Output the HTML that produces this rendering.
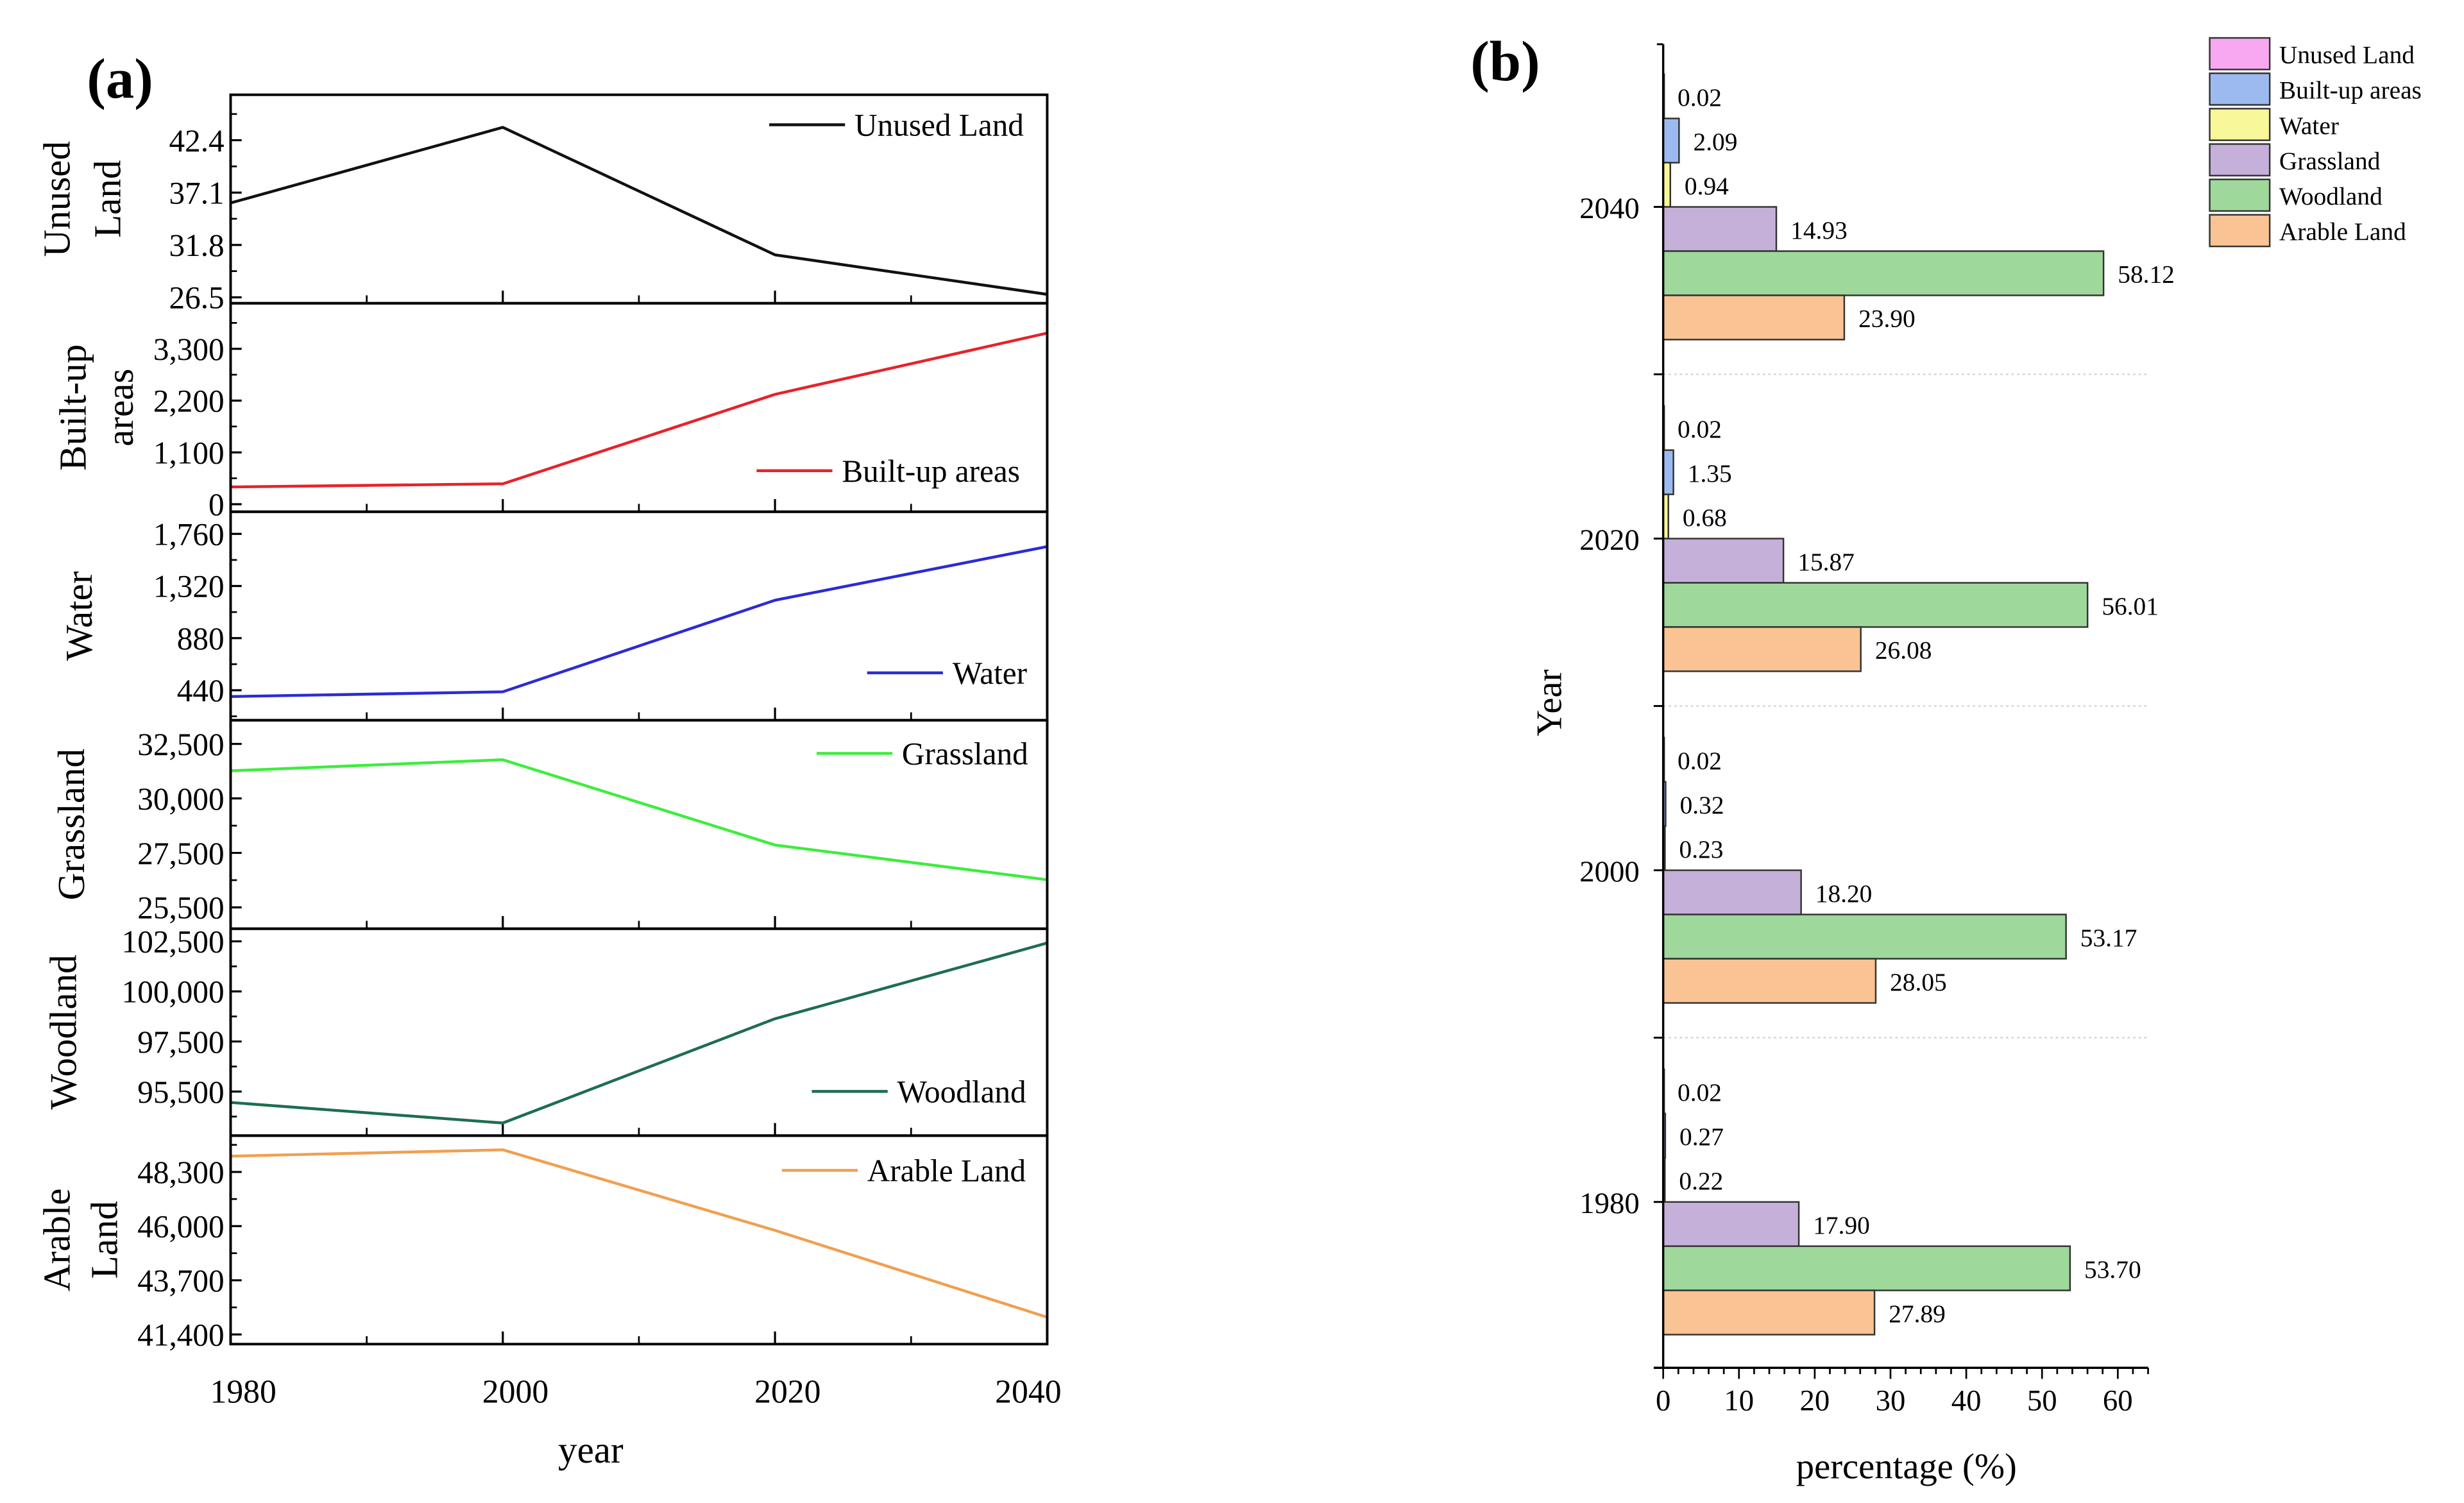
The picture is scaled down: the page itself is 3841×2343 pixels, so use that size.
<!DOCTYPE html>
<html><head><meta charset="utf-8">
<style>
html,body{margin:0;padding:0;background:#fff;}
svg{display:block;font-family:"Liberation Serif","Times New Roman",serif;}
</style></head>
<body>
<svg id="fig" width="3841" height="2343" viewBox="0 0 1560 951.6" xmlns="http://www.w3.org/2000/svg">
<rect width="1560" height="951.6" fill="#fff"/>
<g id="pa"></g>
<g id="pb"></g>
</svg>
<script>
// ---------- Panel (a) data ----------
const years = [1980, 2000, 2020, 2040];
const unusedVals = [36.05, 43.7, 30.8, 26.8];
const builtVals = [367, 433, 2333, 3633];
const waterVals = [387, 427, 1200, 1653];
const grassVals = [31268, 31775, 27862, 26268];
const woodVals = [94456, 93430, 98636, 102420];
const arableVals = [48970, 49239, 45819, 42131];
const unusedTicks = [42.4, 37.1, 31.8, 26.5];
const unusedTickLabels = ["42.4", "37.1", "31.8", "26.5"];
const builtTicks = [3300, 2200, 1100, 0];
const builtTickLabels = ["3,300", "2,200", "1,100", "0"];
const waterTicks = [1760, 1320, 880, 440];
const waterTickLabels = ["1,760", "1,320", "880", "440"];
const grassTicks = [32500, 30000, 27500, 25000];
const grassTickLabels = ["32,500", "30,000", "27,500", "25,500"];
const woodTicks = [102500, 100000, 97500, 95000];
const woodTickLabels = ["102,500", "100,000", "97,500", "95,500"];
const arableTicks = [48300, 46000, 43700, 41400];
const arableTickLabels = ["48,300", "46,000", "43,700", "41,400"];
const yearTickLabels = ["1980", "2000", "2020", "2040"];

// ---------- Panel (b) data ----------
const barYears = ["2040", "2020", "2000", "1980"];
const barCategories = ["Unused Land", "Built-up areas", "Water", "Grassland", "Woodland", "Arable Land"];
const pct2040 = [0.02, 2.09, 0.94, 14.93, 58.12, 23.90];
const pct2020 = [0.02, 1.35, 0.68, 15.87, 56.01, 26.08];
const pct2000 = [0.02, 0.32, 0.23, 18.20, 53.17, 28.05];
const pct1980 = [0.02, 0.27, 0.22, 17.90, 53.70, 27.89];
const pctTicks = [0, 10, 20, 30, 40, 50, 60];

const NS = "http://www.w3.org/2000/svg";
function mk(parent, tag, attrs, text) {
  const e = document.createElementNS(NS, tag);
  for (const k in attrs) e.setAttribute(k, attrs[k]);
  if (text !== undefined) e.textContent = text;
  parent.appendChild(e);
  return e;
}

// ---------- Draw panel (a) ----------
const pa = document.getElementById('pa');
const X0 = 146, X1 = 663;
const xScale = y => X0 + (y - 1980) / (2040 - 1980) * (X1 - X0);

const panels = [
  {name:"unused-land", vals:unusedVals, ticks:unusedTicks, labels:unusedTickLabels, dom:[25.9,47.0], top:60, bot:192, color:"#111", title:["Unused","Land"], tx:[36,68], legend:"Unused Land", lx:487, ly:79},
  {name:"built-up-areas", vals:builtVals, ticks:builtTicks, labels:builtTickLabels, dom:[-160,4267], top:192, bot:324, color:"#e8222a", title:["Built-up","areas"], tx:[46,76], legend:"Built-up areas", lx:479, ly:298},
  {name:"water", vals:waterVals, ticks:waterTicks, labels:waterTickLabels, dom:[187,1947], top:324, bot:456, color:"#2b2bd6", title:["Water"], tx:[50], legend:"Water", lx:549, ly:426},
  {name:"grassland", vals:grassVals, ticks:grassTicks, labels:grassTickLabels, dom:[24022,33587], top:456, bot:588, color:"#3ded3d", title:["Grassland"], tx:[45], legend:"Grassland", lx:517, ly:477},
  {name:"woodland", vals:woodVals, ticks:woodTicks, labels:woodTickLabels, dom:[92800,103131], top:588, bot:719, color:"#1e6e4e", title:["Woodland"], tx:[40], legend:"Woodland", lx:514, ly:691},
  {name:"arable-land", vals:arableVals, ticks:arableTicks, labels:arableTickLabels, dom:[40991,49842], top:719, bot:851, color:"#f0a050", title:["Arable","Land"], tx:[36,66], legend:"Arable Land", lx:495, ly:741}
];

panels.forEach(p => {
  const g = mk(pa, 'g', {});
  
  
  const yS = v => p.bot - (v - p.dom[0]) / (p.dom[1] - p.dom[0]) * (p.bot - p.top);
  // y ticks + labels
  p.ticks.forEach((t, i) => {
    const y = yS(t);
    mk(g, 'line', {x1:X0, x2:X0+7, y1:y, y2:y, stroke:"#000", "stroke-width":1.3});
    const tl = mk(g, 'text', {x:X0-4, y:y+7, "text-anchor":"end", "font-size":20}, p.labels[i]);
    
    
    if (i < p.ticks.length - 1) {
      const ym = yS((t + p.ticks[i+1]) / 2);
      mk(g, 'line', {x1:X0, x2:X0+4, y1:ym, y2:ym, stroke:"#000", "stroke-width":1.1});
    }
  });
  // minor ticks beyond last / before first
  const step = p.ticks[0] - p.ticks[1];
  [p.ticks[0] + step/2, p.ticks[p.ticks.length-1] - step/2].forEach(v => {
    const y = yS(v);
    if (y > p.top + 2 && y < p.bot - 2) mk(g, 'line', {x1:X0, x2:X0+4, y1:y, y2:y, stroke:"#000", "stroke-width":1.1});
  });
  // x ticks at bottom
  years.forEach(yr => {
    const x = xScale(yr);
    mk(g, 'line', {x1:x, x2:x, y1:p.bot, y2:p.bot-8, stroke:"#000", "stroke-width":1.3});
  });
  [1990, 2010, 2030].forEach(yr => {
    const x = xScale(yr);
    mk(g, 'line', {x1:x, x2:x, y1:p.bot, y2:p.bot-5, stroke:"#000", "stroke-width":1.1});
  });
  // series line
  const pts = p.vals.map((v, i) => xScale(years[i]).toFixed(2) + ',' + yS(v).toFixed(2)).join(' ');
  const ln = mk(g, 'polyline', {points:pts, fill:"none", stroke:p.color, "stroke-width":1.8, "stroke-linejoin":"round"});
  
  
  // frame
  const fr = mk(g, 'rect', {x:X0, y:p.top, width:X1-X0, height:p.bot-p.top, fill:"none", stroke:"#000", "stroke-width":1.6});
  
  
  // title
  const my = (p.top + p.bot) / 2;
  p.title.forEach((t, i) => {
    const tt = mk(g, 'text', {x:0, y:0, transform:`translate(${p.tx[i]},${my}) rotate(-90)`, "text-anchor":"middle", "dominant-baseline":"central", "font-size":24}, t);
    
    
  });
  // legend
  const lg = mk(g, 'g', {});
  
  
  mk(lg, 'line', {x1:p.lx, x2:p.lx+48, y1:p.ly, y2:p.ly, stroke:p.color, "stroke-width":1.8});
  mk(lg, 'text', {x:p.lx+54, y:p.ly+7, "font-size":20}, p.legend);
});
// x tick labels
years.forEach((yr, i) => {
  const t = mk(pa, 'text', {x:xScale(yr) + (i === 3 ? -12 : 8), y:888, "text-anchor":"middle", "font-size":21}, yearTickLabels[i]);
  
  
});
const xt = mk(pa, 'text', {x:374, y:926, "text-anchor":"middle", "font-size":24}, "year");


const la = mk(pa, 'text', {x:55, y:62, "font-size":36, "font-weight":"bold"}, "(a)");



// ---------- Draw panel (b) ----------
const pb = document.getElementById('pb');
const BX0 = 1053, BTOP = 28, BBOT = 866, BX1 = 1360;
const pScale = v => BX0 + v / 64 * (BX1 - BX0);
const barColors = ["#f8a8f0", "#9cbaf0", "#f8f89a", "#c4b0d8", "#9ed89a", "#f9c393"];
const groupCenters = {"2040":131, "2020":341, "2000":551, "1980":761};
const BH = 28;
const allPct = [pct2040, pct2020, pct2000, pct1980];

// gridlines (dotted separators)
[237, 447, 657].forEach(y => {
  mk(pb, 'line', {x1:BX0, x2:BX1, y1:y, y2:y, stroke:"#ccc", "stroke-width":0.8, "stroke-dasharray":"1.5,2"});
  mk(pb, 'line', {x1:BX0-6, x2:BX0, y1:y, y2:y, stroke:"#000", "stroke-width":1.2});
});

barYears.forEach((yr, gi) => {
  const vals = allPct[gi];
  const c = groupCenters[yr];
  const g = mk(pb, 'g', {});
  
  
  vals.forEach((v, ci) => {
    const y = c - 3*BH + ci*BH;
    const w = pScale(v) - BX0;
    const r = mk(g, 'rect', {x:BX0, y:y, width:Math.max(w, 0.6), height:BH, fill:barColors[ci], stroke:"#333", "stroke-width":1});
    
    
    const t = mk(g, 'text', {x:pScale(v) + 9, y:y + BH/2 + 6, "font-size":16}, v.toFixed(2));
    
    
  });
  mk(pb, 'line', {x1:BX0-6, x2:BX0, y1:c, y2:c, stroke:"#000", "stroke-width":1.2});
  const yl = mk(pb, 'text', {x:1038, y:c+7, "text-anchor":"end", "font-size":19}, yr);
  
  
});

// axes
mk(pb, 'line', {x1:BX0, x2:BX0, y1:BTOP, y2:BBOT, stroke:"#000", "stroke-width":1.4});
mk(pb, 'line', {x1:BX0-4, x2:BX0, y1:BTOP, y2:BTOP, stroke:"#000", "stroke-width":1.2});
mk(pb, 'line', {x1:BX0-6, x2:BX1, y1:BBOT, y2:BBOT, stroke:"#000", "stroke-width":1.4});
for (let v = 0; v <= 64; v += 2) {
  const major = v % 10 === 0;
  mk(pb, 'line', {x1:pScale(v), x2:pScale(v), y1:BBOT, y2:BBOT + (major ? 7 : 4), stroke:"#000", "stroke-width":1.1});
}
pctTicks.forEach(v => {
  const t = mk(pb, 'text', {x:pScale(v), y:893, "text-anchor":"middle", "font-size":19}, String(v));
  
  
});
const bxt = mk(pb, 'text', {x:1207, y:936, "text-anchor":"middle", "font-size":23}, "percentage (%)");


const byt = mk(pb, 'text', {x:0, y:0, transform:"translate(981,445) rotate(-90)", "text-anchor":"middle", "dominant-baseline":"central", "font-size":23}, "Year");


const lb = mk(pb, 'text', {x:931, y:51, "font-size":36, "font-weight":"bold"}, "(b)");



// legend
barCategories.forEach((cat, i) => {
  const y = 24 + i*22.4;
  const g = mk(pb, 'g', {});
  
  
  mk(g, 'rect', {x:1399, y:y, width:38, height:20, fill:barColors[i], stroke:"#333", "stroke-width":1});
  mk(g, 'text', {x:1443, y:y+16, "font-size":16}, cat);
});
</script>
</body></html>
